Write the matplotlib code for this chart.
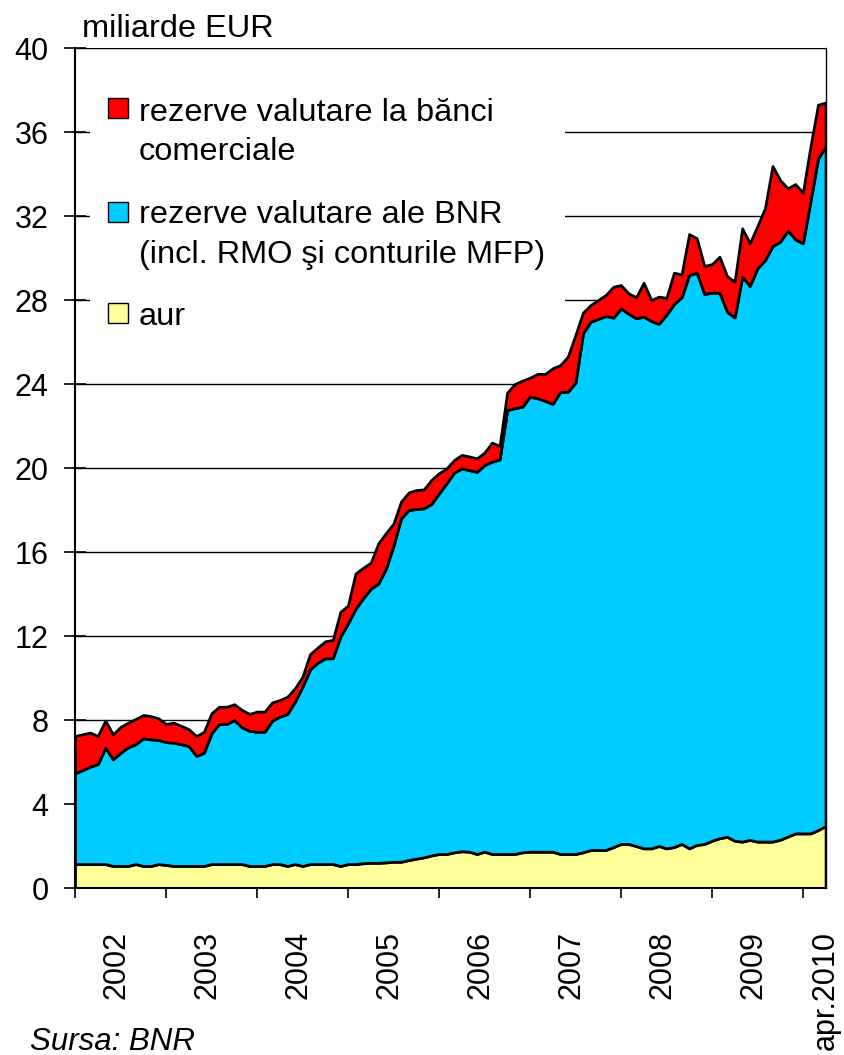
import matplotlib
matplotlib.use("Agg")
import matplotlib.pyplot as plt
from matplotlib.patches import Rectangle
import numpy as np

# Monthly data, Jan 2002 .. Apr 2010 (100 months), bn EUR
luni = np.arange(100)

aur = [1.14, 1.14, 1.14, 1.14, 1.14, 1.05, 1.05, 1.05, 1.14, 1.05,
       1.05, 1.14, 1.10, 1.05, 1.05, 1.05, 1.05, 1.05, 1.14, 1.14,
       1.14, 1.14, 1.14, 1.05, 1.05, 1.05, 1.14, 1.14, 1.05, 1.14,
       1.05, 1.14, 1.14, 1.14, 1.14, 1.05, 1.14, 1.14, 1.18, 1.20,
       1.20, 1.22, 1.25, 1.25, 1.33, 1.40, 1.46, 1.55, 1.62, 1.62,
       1.70, 1.75, 1.73, 1.62, 1.73, 1.62, 1.62, 1.62, 1.62, 1.70,
       1.73, 1.73, 1.73, 1.73, 1.62, 1.62, 1.62, 1.70, 1.81, 1.81,
       1.81, 1.95, 2.10, 2.10, 2.00, 1.89, 1.89, 2.00, 1.89, 1.95,
       2.10, 1.89, 2.05, 2.10, 2.25, 2.37, 2.44, 2.25, 2.21, 2.29,
       2.21, 2.21, 2.21, 2.30, 2.45, 2.60, 2.60, 2.60, 2.76, 2.95]

rezerve_bnr = [4.32, 4.48, 4.64, 4.76, 5.54, 5.08, 5.39, 5.65, 5.71, 6.08,
               6.03, 5.91, 5.85, 5.87, 5.80, 5.71, 5.24, 5.39, 6.23, 6.67,
               6.67, 6.86, 6.51, 6.44, 6.39, 6.39, 6.83, 7.02, 7.24, 7.73,
               8.54, 9.27, 9.59, 9.80, 9.80, 10.92, 11.46, 12.16, 12.62, 13.05,
               13.30, 13.98, 15.05, 16.35, 16.67, 16.65, 16.62, 16.74, 17.17, 17.65,
               18.08, 18.23, 18.17, 18.20, 18.41, 18.68, 18.79, 21.14, 21.23, 21.22,
               21.67, 21.59, 21.47, 21.32, 22.01, 22.01, 22.44, 24.71, 25.16, 25.29,
               25.43, 25.21, 25.50, 25.25, 25.13, 25.32, 25.11, 24.86, 25.41, 25.86,
               26.03, 27.30, 27.25, 26.19, 26.10, 25.98, 25.00, 24.92, 26.90, 26.38,
               27.30, 27.69, 28.36, 28.48, 28.85, 28.29, 28.10, 30.10, 31.98, 32.35]

rezerve_banci = [1.78, 1.70, 1.62, 1.34, 1.29, 1.19, 1.23, 1.17, 1.20, 1.11,
                 1.10, 1.03, 0.86, 0.95, 0.87, 0.80, 0.95, 1.00, 0.95, 0.82,
                 0.82, 0.75, 0.83, 0.80, 0.96, 0.96, 0.87, 0.79, 0.82, 0.64,
                 0.47, 0.73, 0.72, 0.81, 0.87, 1.18, 0.85, 1.68, 1.45, 1.24,
                 1.91, 1.70, 1.05, 0.80, 0.83, 0.90, 0.90, 1.14, 0.96, 0.71,
                 0.60, 0.64, 0.65, 0.64, 0.59, 0.91, 0.64, 0.83, 1.15, 1.24,
                 0.90, 1.16, 1.28, 1.70, 1.27, 1.67, 2.27, 0.99, 0.79, 0.90,
                 1.00, 1.47, 1.11, 0.97, 1.00, 1.61, 1.00, 1.30, 0.80, 1.49,
                 1.09, 1.95, 1.64, 1.33, 1.36, 1.71, 1.70, 1.70, 2.30, 2.03,
                 2.01, 2.47, 3.81, 2.93, 2.02, 2.63, 2.41, 2.60, 2.56, 2.10]

year_ticks = [0, 12, 24, 36, 48, 60, 72, 84, 96]
label_positions = [5.5, 17.5, 29.5, 41.5, 53.5, 65.5, 77.5, 89.5, 99]
x_labels = ["2002", "2003", "2004", "2005", "2006", "2007", "2008", "2009", "apr.2010"]
y_ticks = list(range(0, 41, 4))

series_labels = ["rezerve valutare la bănci\ncomerciale",
                 "rezerve valutare ale BNR\n(incl. RMO şi conturile MFP)",
                 "aur"]
series_colors = ["#FF0000", "#00CCFF", "#FFFF99"]
unit_label = "miliarde EUR"
source_label = "Sursa: BNR"

plt.rcParams["font.family"] = ["Liberation Sans", "DejaVu Sans"]

W, H = 844, 1055
fig = plt.figure(figsize=(W / 100, H / 100), dpi=100)


def fx(px):
    return px / W


def fy(py):
    return 1 - py / H


ax = fig.add_axes([fx(75), fy(888), (825.6 - 75) / W, (888 - 48) / H])

# gridlines (drawn lowest)
ax.hlines(y_ticks, 0, 99, colors="black", linewidth=1.0, zorder=0.5)

# legend background (covers gridlines, below ticks)
ax.add_patch(Rectangle((fx(90), fy(345)), (565 - 90) / W, (345 - 58) / H,
                       transform=fig.transFigure, facecolor="white",
                       edgecolor="none", zorder=1))

ax.stackplot(luni, aur, rezerve_bnr, rezerve_banci,
             colors=[series_colors[2], series_colors[1], series_colors[0]],
             edgecolor="black", linewidth=2.0, zorder=3)

ax.set_xlim(0, 99)
ax.set_ylim(0, 40)
ax.set_yticks(y_ticks)
ax.set_yticklabels([str(v) for v in y_ticks])

ax.set_xticks(year_ticks)
ax.set_xticklabels([])
ax.set_xticks(label_positions, minor=True)
ax.set_xticklabels(x_labels, minor=True, rotation=90, va="top", ha="center")

ax.tick_params(axis="y", direction="inout", length=16, width=1.2,
               labelsize=22, pad=11, colors="black")
ax.tick_params(axis="x", which="major", direction="out", length=7.5, width=1.2)
ax.tick_params(axis="x", which="minor", length=0, labelsize=22, pad=31)

ax.spines["top"].set_visible(False)
ax.spines["left"].set_linewidth(1.5)
ax.spines["bottom"].set_linewidth(1.5)
ax.spines["right"].set_linewidth(1.0)
for s in ax.spines.values():
    s.set_color("black")
    s.set_zorder(4)

patch_tops = [98, 202, 303]
baselines = [121, 223, 325]
for top, base, lab, col in zip(patch_tops, baselines, series_labels, series_colors):
    fig.patches.append(Rectangle((fx(108), fy(top + 20)), 20 / W, 20 / H,
                                 transform=fig.transFigure, facecolor=col,
                                 edgecolor="black", linewidth=1.0))
    for k, line in enumerate(lab.split("\n")):
        fig.text(fx(139), fy(base + 39.5 * k), line, fontsize=23.4,
                 va="baseline", ha="left")

fig.text(fx(82), fy(37), unit_label, fontsize=23.4, va="baseline", ha="left")
fig.text(fx(30), fy(1050), source_label, fontsize=22.5, style="italic",
         va="baseline", ha="left")

fig.savefig("out.png", dpi=100)
